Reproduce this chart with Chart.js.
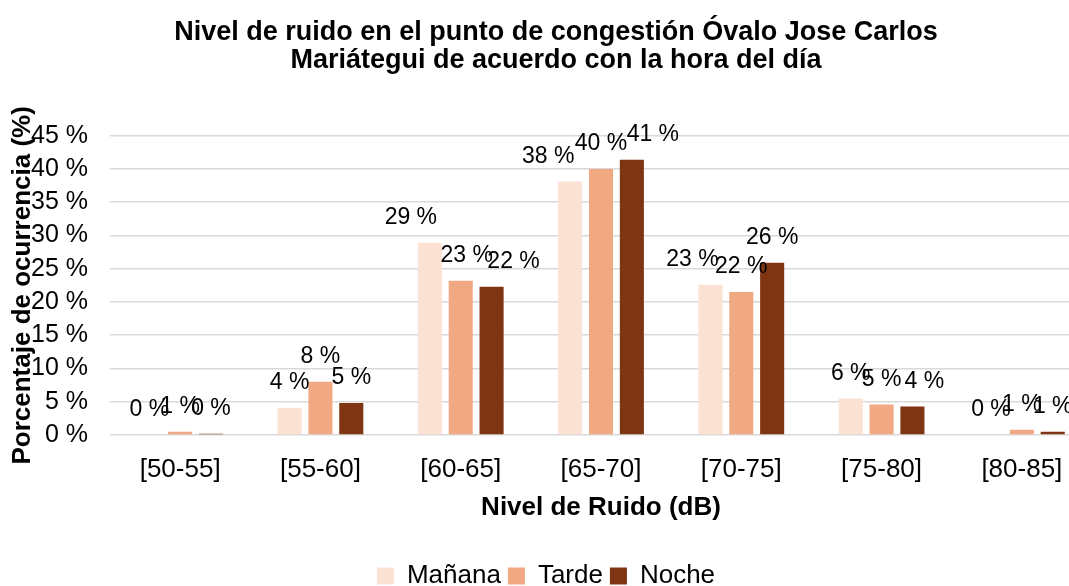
<!DOCTYPE html>
<html>
<head>
<meta charset="utf-8">
<script src="https://cdn.jsdelivr.net/npm/chart.js@4.4.1/dist/chart.umd.min.js"></script>
<style>
  html, body { margin: 0; padding: 0; background: #fff; overflow: hidden; }
  #wrap { width: 1092px; height: 586px; }
</style>
</head>
<body>
<div id="wrap"><canvas id="myChart" width="1092" height="586"></canvas></div>
<script>
// rangos de ruido (dB)
const categories = ['[50-55]', '[55-60]', '[60-65]', '[65-70]', '[70-75]', '[75-80]', '[80-85]'];
const seriesNames = ['Mañana', 'Tarde', 'Noche'];

// porcentaje de ocurrencia por franja horaria
const manana = [0.0, 4.1, 28.9, 38.1, 22.6, 5.5, 0.1];
const tarde = [0.5, 8.0, 23.2, 40.0, 21.5, 4.6, 0.8];
const noche = [0.2, 4.8, 22.3, 41.4, 25.9, 4.3, 0.5];

const yTicks = [0, 5, 10, 15, 20, 25, 30, 35, 40, 45];

const colors = ['#FBE2D5', '#F1A983', '#7F3512'];
const font = "'Liberation Sans', Arial, sans-serif";

// algunas etiquetas estan desplazadas a un lado en el original (serie-categoria: px)
const labelNudge = { '0-2': -19, '1-2': 6, '2-2': 22, '0-3': -22, '2-3': 21, '0-4': -18, '2-5': 12 };

// etiquetas encima de cada barra
const barLabels = {
    id: 'barLabels',
    afterDatasetsDraw(chart) {
        const ctx = chart.ctx;
        ctx.save();
        ctx.font = '23px ' + font;
        ctx.fillStyle = '#000';
        ctx.textAlign = 'center';
        ctx.textBaseline = 'middle';
        chart.data.datasets.forEach(function(ds, i) {
            chart.getDatasetMeta(i).data.forEach(function(bar, j) {
                let dx = labelNudge[i + '-' + j] || 0;
                ctx.fillText(Math.round(ds.data[j]) + ' %', bar.x + dx, bar.y - 25);
            });
        });
        ctx.restore();
    }
};

// el titulo no esta centrado exactamente en el original
const titleShift = {
    id: 'titleShift',
    afterLayout(chart) {
        if (chart.titleBlock) {
            chart.titleBlock.left += 10;
            chart.titleBlock.right += 10;
        }
    }
};

const $ctx = document.getElementById('myChart');

new Chart($ctx, {
    type: 'bar',
    data: {
        labels: categories,
        datasets: [
            { label: seriesNames[0], data: manana, backgroundColor: colors[0] },
            { label: seriesNames[1], data: tarde, backgroundColor: colors[1] },
            { label: seriesNames[2], data: noche, backgroundColor: colors[2] }
        ]
    },
    options: {
        responsive: false,
        animation: false,
        layout: { padding: { left: 0, right: 0, top: 0, bottom: 0 } },
        datasets: {
            bar: { categoryPercentage: 0.66, barPercentage: 0.78 }
        },
        plugins: {
            title: {
                display: true,
                text: ['Nivel de ruido en el punto de congestión Óvalo Jose Carlos', 'Mariátegui de acuerdo con la hora del día'],
                color: '#000',
                font: { family: font, size: 27, weight: 'bold', lineHeight: 1.05 },
                padding: { top: 18, bottom: 61 }
            },
            legend: {
                position: 'bottom',
                maxHeight: 30,
                labels: {
                    color: '#000',
                    font: { family: font, size: 26 },
                    boxWidth: 17,
                    boxHeight: 17,
                    padding: 7
                }
            },
            tooltip: { enabled: false }
        },
        scales: {
            x: {
                grid: { display: false, drawTicks: false },
                border: { display: false },
                ticks: { color: '#000', font: { family: font, size: 26 }, padding: 19 },
                title: {
                    display: true,
                    text: 'Nivel de Ruido (dB)',
                    color: '#000',
                    font: { family: font, size: 26, weight: 'bold' },
                    padding: { top: 0, bottom: 33 }
                },
                afterFit(scale) { scale.height = 121; }
            },
            y: {
                min: 0,
                max: 45,
                afterBuildTicks(scale) { scale.ticks = yTicks.map(function(v) { return { value: v }; }); },
                grid: { color: '#D9D9D9', lineWidth: 1.5, drawTicks: false },
                border: { display: false },
                ticks: {
                    color: '#000',
                    font: { family: font, size: 25 },
                    padding: 22,
                    callback: function(v) { return v + ' %'; }
                },
                title: {
                    display: true,
                    text: 'Porcentaje de ocurrencia (%)',
                    color: '#000',
                    font: { family: font, size: 26, weight: 'bold' },
                    padding: { top: 7, bottom: 0 }
                },
                afterFit(scale) { scale.width = 110; }
            }
        }
    },
    plugins: [barLabels, titleShift]
});
</script>
</body>
</html>
